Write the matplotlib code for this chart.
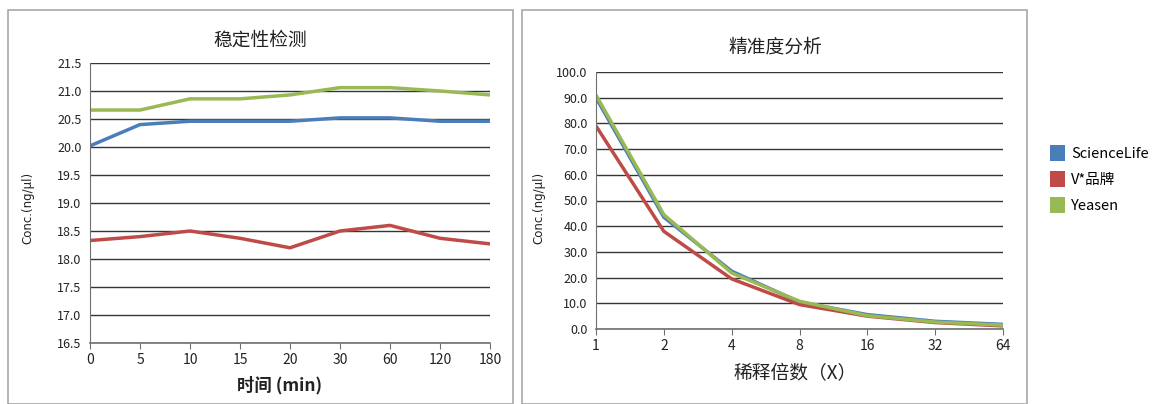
import matplotlib.pyplot as plt
from matplotlib.patches import Rectangle, Patch

plt.rcParams['font.family'] = ['Noto Sans CJK SC', 'DejaVu Sans']

# stability data
time_labels = ['0', '5', '10', '15', '20', '30', '60', '120', '180']
stab_sciencelife = [20.02, 20.40, 20.46, 20.46, 20.46, 20.52, 20.52, 20.46, 20.46]
stab_vbrand = [18.33, 18.40, 18.50, 18.37, 18.20, 18.50, 18.60, 18.37, 18.27]
stab_yeasen = [20.66, 20.66, 20.86, 20.86, 20.93, 21.06, 21.06, 21.00, 20.93]

# precision data
dil_labels = ['1', '2', '4', '8', '16', '32', '64']
prec_sciencelife = [90.0, 43.5, 22.5, 10.5, 5.6, 3.0, 1.8]
prec_vbrand = [79.0, 38.0, 19.5, 9.5, 5.0, 2.5, 1.2]
prec_yeasen = [91.0, 44.5, 21.8, 10.8, 5.2, 2.7, 1.5]

series_names = ['ScienceLife', 'V*品牌', 'Yeasen']
colors = ['#4a7ebb', '#be4b48', '#98b954']

fig = plt.figure(figsize=(11.54, 4.04), dpi=100)
W, H = 1154, 404

def fx(px):
    return px / W

def fy(py):
    return 1 - py / H

# panel frames
fig.patches.append(Rectangle((fx(8), 0), fx(505), fy(10), transform=fig.transFigure,
                             fill=False, edgecolor='#a8a8a8', lw=1.2))
fig.patches.append(Rectangle((fx(522), 0), fx(505), fy(10), transform=fig.transFigure,
                             fill=False, edgecolor='#a8a8a8', lw=1.2))


def style_ax(ax):
    for s in ['top', 'right']:
        ax.spines[s].set_visible(False)
    ax.spines['left'].set_color('#707070')
    ax.spines['bottom'].set_color('#707070')
    ax.spines['bottom'].set_linewidth(1.2)
    ax.yaxis.grid(True, color='#353535', lw=1)
    ax.set_axisbelow(True)
    ax.tick_params(axis='y', length=0, labelsize=9, pad=6, labelcolor='#222222')
    ax.tick_params(axis='x', length=4, color='#707070', labelsize=10, pad=3,
                   labelcolor='#222222')


ax1 = fig.add_axes([fx(90), fy(343), fx(400), fy(63) - fy(343)])
x1 = range(len(time_labels))
for vals, c in zip([stab_sciencelife, stab_vbrand, stab_yeasen], colors):
    ax1.plot(x1, vals, color=c, lw=2.5, solid_capstyle='butt')
ax1.set_xlim(0, len(time_labels) - 1)
ax1.set_ylim(16.5, 21.5)
ax1.set_xticks(list(x1))
ax1.set_xticklabels(time_labels)
ax1.set_yticks([16.5 + 0.5 * i for i in range(11)])
ax1.set_yticklabels(['%.1f' % (16.5 + 0.5 * i) for i in range(11)])
style_ax(ax1)

ax2 = fig.add_axes([fx(596), fy(329), fx(407), fy(72) - fy(329)])
x2 = range(len(dil_labels))
for vals, c in zip([prec_sciencelife, prec_vbrand, prec_yeasen], colors):
    ax2.plot(x2, vals, color=c, lw=2.5, solid_capstyle='butt')
ax2.set_xlim(0, len(dil_labels) - 1)
ax2.set_ylim(0, 100)
ax2.set_xticks(list(x2))
ax2.set_xticklabels(dil_labels)
ax2.set_yticks(range(0, 101, 10))
ax2.set_yticklabels(['%.1f' % v for v in range(0, 101, 10)])
style_ax(ax2)

# titles and axis labels
fig.text(fx(260), fy(40), '稳定性检测', ha='center', va='center', fontsize=13.5,
         fontweight='medium', color='#222222')
fig.text(fx(775), fy(47), '精准度分析', ha='center', va='center', fontsize=13.5,
         fontweight='medium', color='#222222')
fig.text(fx(280), fy(385), '时间 (min)', ha='center', va='center', fontsize=12.5,
         fontweight='bold', color='#222222')
fig.text(fx(795), fy(374), '稀释倍数（X）', ha='center', va='center', fontsize=13.5,
         color='#222222')
fig.text(fx(28), fy(208), 'Conc.(ng/μl)', ha='center', va='center', rotation=90,
         fontsize=8.5, color='#222222', family=['DejaVu Sans'])
fig.text(fx(539), fy(208), 'Conc.(ng/μl)', ha='center', va='center', rotation=90,
         fontsize=8.5, color='#222222', family=['DejaVu Sans'])

handles = [Patch(facecolor=c, edgecolor='none') for c in colors]
fig.legend(handles, series_names, loc='center left', bbox_to_anchor=(fx(1050), fy(179)),
           borderpad=0, borderaxespad=0, frameon=False,
           prop={'size': 10.5, 'weight': 'medium'}, handlelength=1.0,
           handleheight=1.35, handletextpad=0.45, labelspacing=0.65)

fig.savefig('out.png', dpi=100)
